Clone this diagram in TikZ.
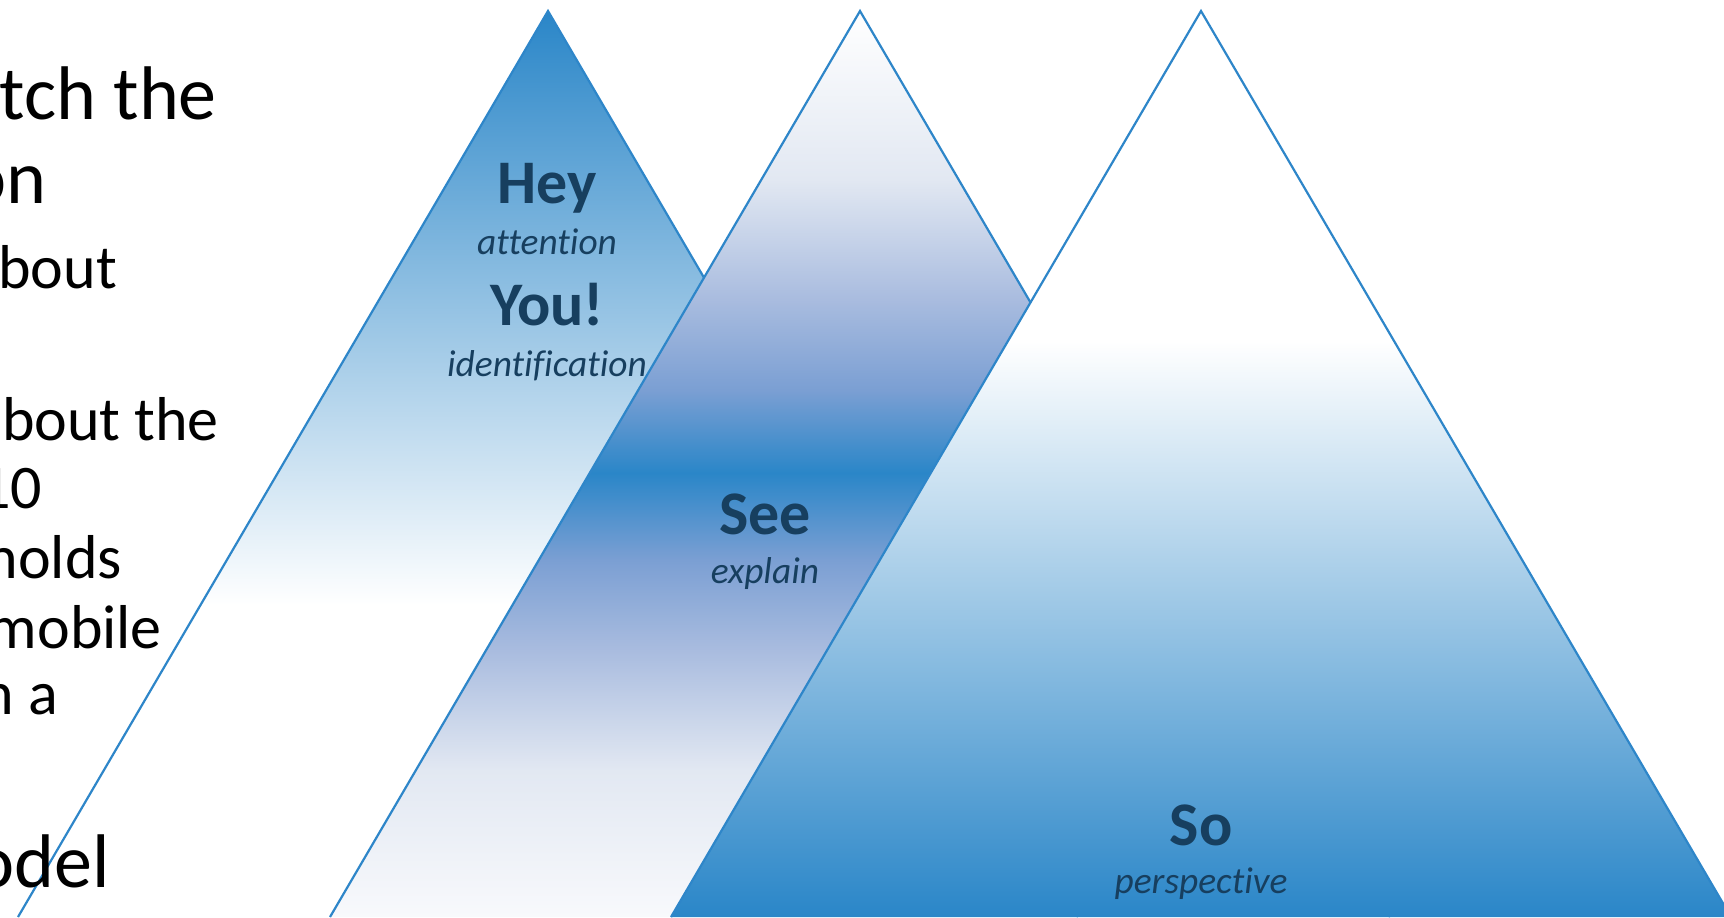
\documentclass[tikz,border=0pt]{standalone}
\usepackage{fontspec}
\setmainfont{Carlito}[Ligatures=NoCommon]

\definecolor{triblue}{HTML}{2A86C8}
\definecolor{triline}{HTML}{2E86C9}
\definecolor{lavA}{HTML}{7B9FD3}
\definecolor{lavB}{HTML}{A9BCDF}
\definecolor{lavC}{HTML}{E2E8F2}
\definecolor{lavD}{HTML}{F8F9FC}
\definecolor{labnavy}{HTML}{173F5F}

% path box runs from 25bp (base) to 75bp (apex)
\pgfdeclareverticalshading{heyfade}{100bp}{color(0bp)=(white); color(42.2bp)=(white); color(75bp)=(triblue); color(100bp)=(triblue)}
\pgfdeclareverticalshading{seeband}{100bp}{color(0bp)=(lavD); color(25bp)=(lavD); color(33.1bp)=(lavC); color(39.7bp)=(lavB); color(44.7bp)=(lavA); color(49.5bp)=(triblue); color(54.1bp)=(lavA); color(59.1bp)=(lavB); color(65.7bp)=(lavC); color(75bp)=(white); color(100bp)=(white)}
\pgfdeclareverticalshading{sorise}{100bp}{color(0bp)=(triblue); color(25bp)=(triblue); color(56.8bp)=(white); color(100bp)=(white)}

\begin{document}
\begin{tikzpicture}[x=0.5pt, y=-0.5pt, line width=1.1pt,
  tri/.style={draw=triline, line join=miter},
  body/.style={anchor=base east, inner sep=0pt, text=black},
  bigbody/.style={body, font=\fontsize{38pt}{45pt}\selectfont},
  smallbody/.style={body, font=\fontsize{31pt}{37pt}\selectfont},
  head/.style={anchor=base, inner sep=0pt, text=labnavy, font=\fontsize{31pt}{37pt}\selectfont\bfseries},
  sub/.style={anchor=base, inner sep=0pt, text=labnavy, font=\fontsize{18.7pt}{22pt}\selectfont\itshape},
]
\useasboundingbox (0,0) rectangle (1724,917);
\clip (0,0) rectangle (1724,917);

% ---------------- three peaks (base sits on the lower frame) ----------------
\shade[shading=heyfade] (18,917) -- (548,11) -- (1078,917) -- cycle;
\draw[tri] (18,917) -- (548,11) -- (1078,917);
\shade[shading=seeband] (330,917) -- (860,11) -- (1390,917) -- cycle;
\draw[tri] (330,917) -- (860,11) -- (1390,917);
\shade[shading=sorise] (671,917) -- (1201,11) -- (1731,917) -- cycle;
\draw[tri] (671,917) -- (1201,11) -- (1731,917);

% ---------------- left text (cut by the frame) ----------------
\node[bigbody]   (l1) at (218,119) {tch the};
\node[bigbody]   (l2) at (48,203)  {on};
\node[smallbody] (l3) at (118,288) {bout};
\node[smallbody] (l4) at (220,440) {bout the};
\node[smallbody] (l5) at (43,508)  {10};
\node[smallbody] (l6) at (123,578) {holds};
\node[smallbody] (l7) at (163,648) {mobile};
\node[smallbody] (l8) at (59,714)  {n a};
\node[bigbody]   (l9) at (111,887) {odel};

% ---------------- peak labels ----------------
\node[head] (hey)   at (547,203) {Hey};
\node[sub]  (heys)  at (547,254) {attention};
\node[head] (you)   at (547,325) {You!};
\node[sub]  (yous)  at (547,376) {identification};
\node[head] (see)   at (765,534) {See};
\node[sub]  (sees)  at (765,583) {explain};
\node[head] (so)    at (1201,845) {So};
\node[sub]  (sos)   at (1201,893) {perspective};
\end{tikzpicture}
\end{document}
